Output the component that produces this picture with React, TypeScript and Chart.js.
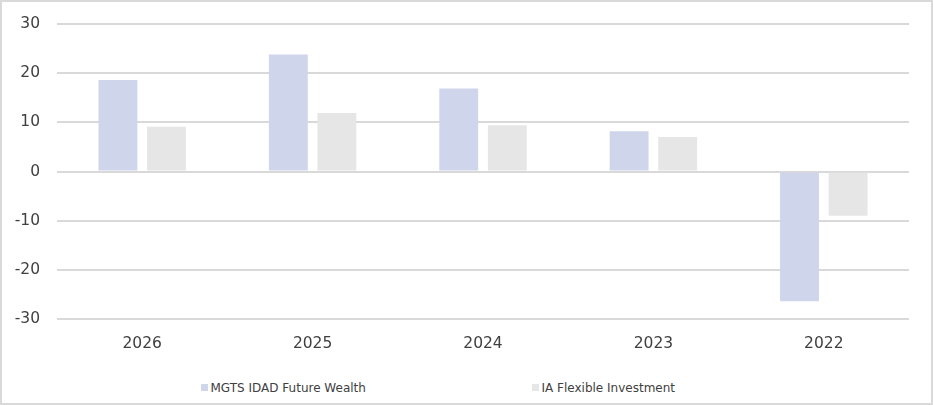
import { useEffect, useRef } from "react";
import { Chart, registerables } from "chart.js";

Chart.register(...registerables);

const categories = ["2026", "2025", "2024", "2023", "2022"];
const fundReturns = [18.6, 23.8, 16.9, 8.2, -26.4];
const sectorReturns = [9.1, 11.9, 9.4, 7.0, -9.0];
const seriesNames = ["MGTS IDAD Future Wealth", "IA Flexible Investment"];
const seriesColors = ["#cfd5ea", "#e6e6e6"];
const yTicks = [-30, -20, -10, 0, 10, 20, 30];

const FONT = "'DejaVu Sans', sans-serif";
const TEXT = "#404040";
const GRID = "#d9d9d9";

export default function App() {
  const canvasRef = useRef<HTMLCanvasElement | null>(null);

  useEffect(() => {
    if (!canvasRef.current) return;
    const chart = new Chart(canvasRef.current, {
      type: "bar",
      data: {
        labels: categories,
        datasets: [
          {
            label: seriesNames[0],
            data: fundReturns,
            backgroundColor: seriesColors[0],
          },
          {
            label: seriesNames[1],
            data: sectorReturns,
            backgroundColor: seriesColors[1],
          },
        ],
      },
      options: {
        responsive: true,
        maintainAspectRatio: false,
        animation: false,
        layout: { padding: { top: 22, right: 22, left: 0, bottom: 0 } },
        datasets: {
          bar: { barPercentage: 0.8, categoryPercentage: 0.57 },
        },
        plugins: {
          legend: { display: false },
          tooltip: { enabled: false },
        },
        scales: {
          x: {
            grid: { display: false, drawTicks: false },
            border: { display: false },
            ticks: { color: TEXT, font: { family: FONT, size: 15.5 }, padding: 15.5 },
            afterFit: (scale) => {
              scale.height = 30;
            },
          },
          y: {
            min: yTicks[0],
            max: yTicks[yTicks.length - 1],
            // invisible tick marks keep the labels 17px off the plot
            grid: { color: GRID, lineWidth: 2, drawTicks: true, tickLength: 17, tickColor: "transparent" },
            border: { display: false },
            ticks: {
              stepSize: yTicks[1] - yTicks[0],
              color: TEXT,
              font: { family: FONT, size: 15.5 },
              padding: 0,
            },
            afterFit: (scale) => {
              scale.width = 55;
            },
          },
        },
      },
    });
    return () => chart.destroy();
  }, []);

  return (
    <div
      style={{
        position: "absolute",
        left: 0,
        top: 0,
        width: 933,
        height: 405,
        boxSizing: "border-box",
        border: `2px solid ${GRID}`,
        background: "#fff",
      }}
    >
      <div style={{ position: "relative", width: 929, height: 347 }}>
        <canvas ref={canvasRef} />
      </div>
      <div
        style={{
          position: "absolute",
          left: 199,
          top: 378.5,
          display: "flex",
          fontFamily: FONT,
          fontSize: 12,
          lineHeight: "14px",
          color: TEXT,
        }}
      >
        {seriesNames.map((name, i) => (
          <div key={name} style={{ display: "flex", alignItems: "center", width: i === 0 ? 331 : "auto" }}>
            <span
              style={{
                display: "inline-block",
                width: 7,
                height: 7,
                marginRight: 2.5,
                background: seriesColors[i],
              }}
            />
            <span>{name}</span>
          </div>
        ))}
      </div>
    </div>
  );
}
